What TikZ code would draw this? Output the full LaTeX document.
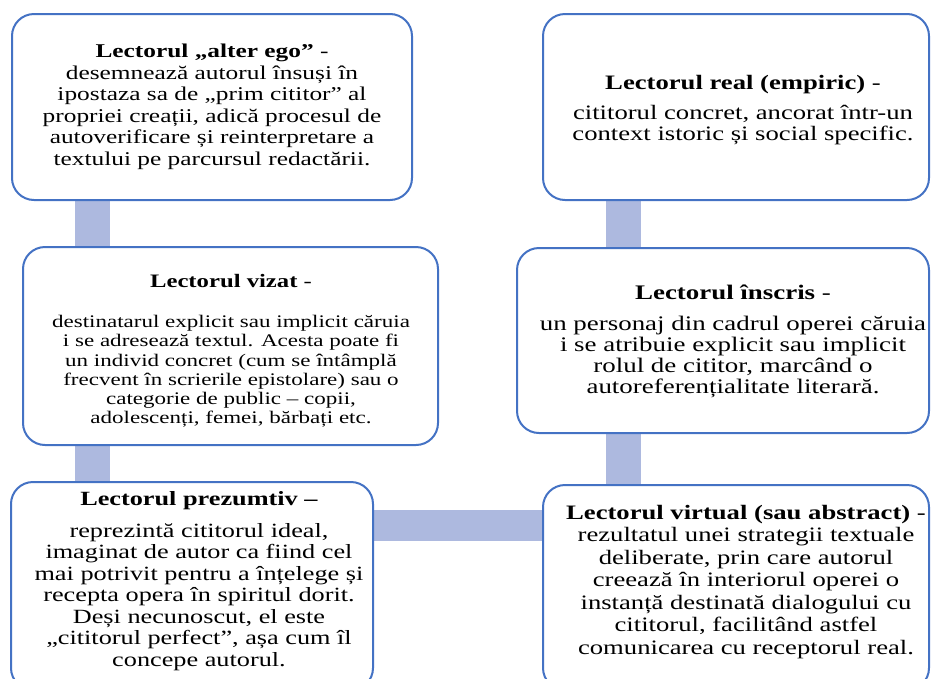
\documentclass[tikz,border=0pt]{standalone}
\usepackage{fontspec}
\setmainfont{Liberation Serif}[FakeStretch=1.3]
\pgfdeclarelayer{background}
\pgfsetlayers{background,main}
\definecolor{boxline}{RGB}{68,114,196}
\definecolor{connfill}{RGB}{173,185,223}
\tikzset{
  card/.style={draw=boxline, line width=2pt, fill=white, rounded corners=22pt, outer sep=0pt, inner sep=0pt},
  cardtext/.style={align=center, inner sep=0pt, text=black},
  connv/.style={draw=connfill, line width=35pt},
  connh/.style={draw=connfill, line width=31pt}
}
\begin{document}
\begin{tikzpicture}[x=1pt,y=-1pt]
\useasboundingbox (0,0) rectangle (931,678);
\clip (0,0) rectangle (931,678);
% boxes
\node[card, minimum width=400pt, minimum height=186pt] (A) at (212,107) {};
\node[card, minimum width=415pt, minimum height=198pt] (B) at (230.5,346) {};
\node[card, minimum width=362pt, minimum height=208pt] (C) at (192,586) {};
\node[card, minimum width=386pt, minimum height=186pt] (D) at (736,107) {};
\node[card, minimum width=412pt, minimum height=185pt] (E) at (723,340.5) {};
\node[card, minimum width=386pt, minimum height=205pt] (F) at (736,587.5) {};
% texts
\node[cardtext, font=\fontsize{19.5}{21.5}\selectfont] (At) at (212,107)
 {\textbf{Lectorul „alter ego”} -\\
  desemnează autorul însuși în\\
  ipostaza sa de „prim cititor” al\\
  propriei creații, adică procesul de\\
  autoverificare și reinterpretare a\\
  textului pe parcursul redactării.};
\node[cardtext, font=\fontsize{17.7}{19.3}\selectfont] (Bt) at (231,351)
 {{\fontsize{19}{19.3}\selectfont\textbf{Lectorul vizat} -}\\[20.7pt]
  destinatarul explicit sau implicit căruia\\
  i se adresează textul. Acesta poate fi\\
  un individ concret (cum se întâmplă\\
  frecvent în scrierile epistolare) sau o\\
  categorie de public – copii,\\
  adolescenți, femei, bărbați etc.};
\node[cardtext, font=\fontsize{20.2}{21.5}\selectfont] (Ct) at (199,581)
 {\textbf{Lectorul prezumtiv –}\\[10.5pt]
  reprezintă cititorul ideal,\\
  imaginat de autor ca fiind cel\\
  mai potrivit pentru a înțelege și\\
  recepta opera în spiritul dorit.\\
  Deși necunoscut, el este\\
  „cititorul perfect”, așa cum îl\\
  concepe autorul.};
\node[cardtext, font=\fontsize{20.5}{21}\selectfont] (Dt) at (743,110)
 {\textbf{Lectorul real (empiric)} -\\[9pt]
  cititorul concret, ancorat într-un\\
  context istoric și social specific.};
\node[cardtext, font=\fontsize{20.7}{20.7}\selectfont] (Et) at (733,341)
 {\textbf{Lectorul înscris} -\\[11pt]
  un personaj din cadrul operei căruia\\
  i se atribuie explicit sau implicit\\
  rolul de cititor, marcând o\\
  autoreferențialitate literară.};
\node[cardtext, font=\fontsize{20.5}{22.5}\selectfont] (Ft) at (746,582)
 {\textbf{Lectorul virtual (sau abstract)} -\\
  rezultatul unei strategii textuale\\
  deliberate, prin care autorul\\
  creează în interiorul operei o\\
  instanță destinată dialogului cu\\
  cititorul, facilitând astfel\\
  comunicarea cu receptorul real.};
% connectors
\begin{pgfonlayer}{background}
\draw[connv] ([xshift=80.5pt]A.south west) -- ([xshift=69.5pt]B.north west);
\draw[connv] ([xshift=69.5pt]B.south west) -- ([xshift=81.5pt]C.north west);
\draw[connh] ([yshift=61pt]C.east) -- ([yshift=62.5pt]F.west);
\draw[connv] ([xshift=80.5pt]D.south west) -- ([xshift=106.5pt]E.north west);
\draw[connv] ([xshift=106.5pt]E.south west) -- ([xshift=80.5pt]F.north west);
\end{pgfonlayer}
\end{tikzpicture}
\end{document}
